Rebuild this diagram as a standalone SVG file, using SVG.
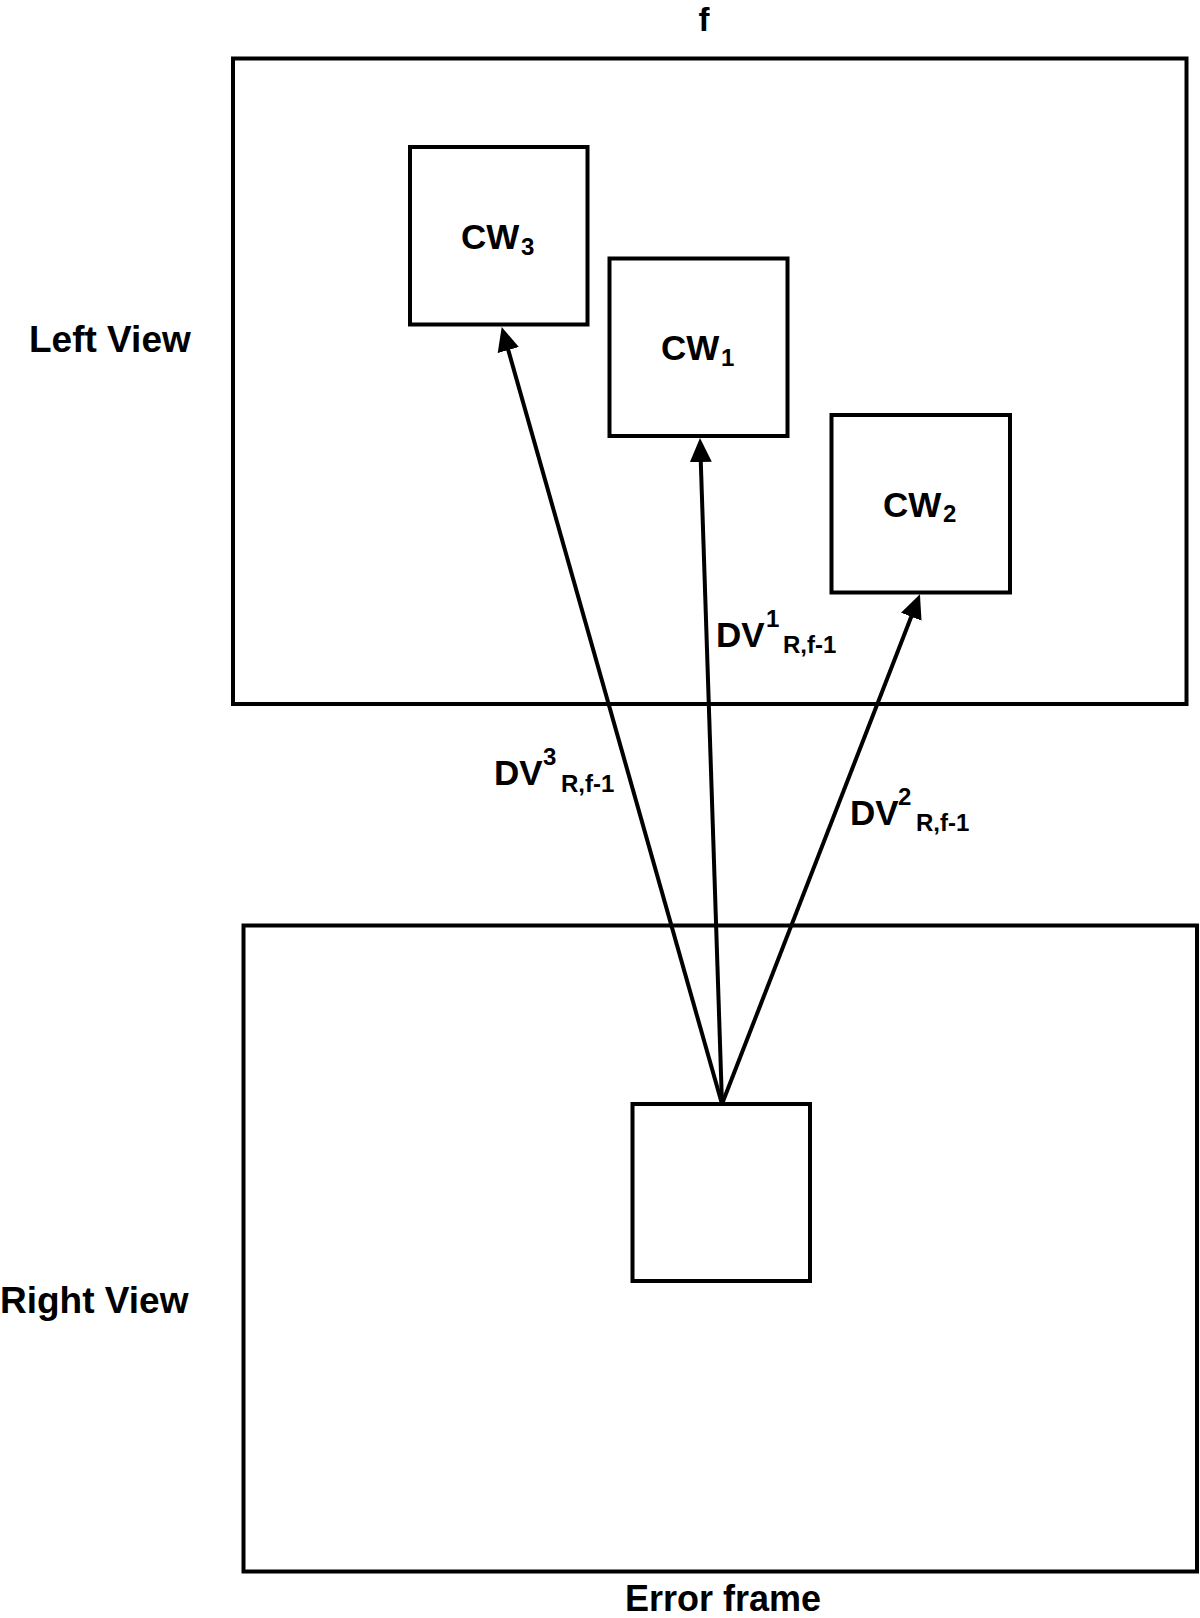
<svg xmlns="http://www.w3.org/2000/svg" width="1200" height="1618" viewBox="0 0 1200 1618">
<style>
.box{fill:#fff;stroke:#000;stroke-width:4}
.frame{fill:none;stroke:#000;stroke-width:4}
.lbl{font-family:"Liberation Sans",Arial,sans-serif;font-weight:bold;fill:#000}
.conn{stroke:#000;stroke-width:4;fill:none;marker-end:url(#ah)}
</style>
<defs>
<marker id="ah" markerUnits="userSpaceOnUse" viewBox="0 0 24 24" refX="12" refY="12" markerWidth="24" markerHeight="24" orient="auto">
<path d="M0,1 L24,12 L0,23 z" fill="#000"/>
</marker>
</defs>
<g id="title-f"><text class="lbl" x="704" y="31" font-size="33" text-anchor="middle">f</text></g>
<g id="left-view">
<rect class="frame" x="233" y="58.5" width="953.5" height="645.5"/>
<text class="lbl" x="29" y="352" font-size="37">Left View</text>
</g>
<g id="right-view">
<rect class="frame" x="243.5" y="925.5" width="953.5" height="646"/>
<text class="lbl" x="0" y="1313" font-size="37">Right View</text>
<text class="lbl" x="625" y="1611" font-size="36">Error frame</text>
</g>
<g id="cw3">
<rect class="box" x="410" y="147" width="177.5" height="177.5"/>
<text class="lbl" font-size="35"><tspan x="461" y="249">CW</tspan><tspan x="521" y="255" font-size="24">3</tspan></text>
</g>
<g id="cw1">
<rect class="box" x="609.5" y="258.5" width="178" height="177.5"/>
<text class="lbl" font-size="35"><tspan x="661" y="360">CW</tspan><tspan x="721" y="366" font-size="24">1</tspan></text>
</g>
<g id="cw2">
<rect class="box" x="831.5" y="415" width="178.5" height="177.5"/>
<text class="lbl" font-size="35"><tspan x="883" y="517">CW</tspan><tspan x="943" y="522" font-size="24">2</tspan></text>
</g>
<g id="error-block">
<rect class="box" x="632.5" y="1104" width="177.5" height="177"/>
</g>
<g id="connectors">
<line class="conn" x1="722" y1="1104" x2="505" y2="338.5"/>
<line class="conn" x1="722" y1="1104" x2="700.4" y2="450"/>
<line class="conn" x1="722" y1="1104" x2="915.6" y2="605.5"/>
</g>
<g id="labels">
<text class="lbl" font-size="35"><tspan x="716" y="647">DV</tspan><tspan x="766" y="627" font-size="24">1</tspan><tspan x="783" y="653" font-size="24">R,f-1</tspan></text>
<text class="lbl" font-size="35"><tspan x="494" y="785">DV</tspan><tspan x="543" y="765" font-size="24">3</tspan><tspan x="561" y="792" font-size="24">R,f-1</tspan></text>
<text class="lbl" font-size="35"><tspan x="850" y="825">DV</tspan><tspan x="898" y="805" font-size="24">2</tspan><tspan x="916" y="831" font-size="24">R,f-1</tspan></text>
</g>
</svg>
